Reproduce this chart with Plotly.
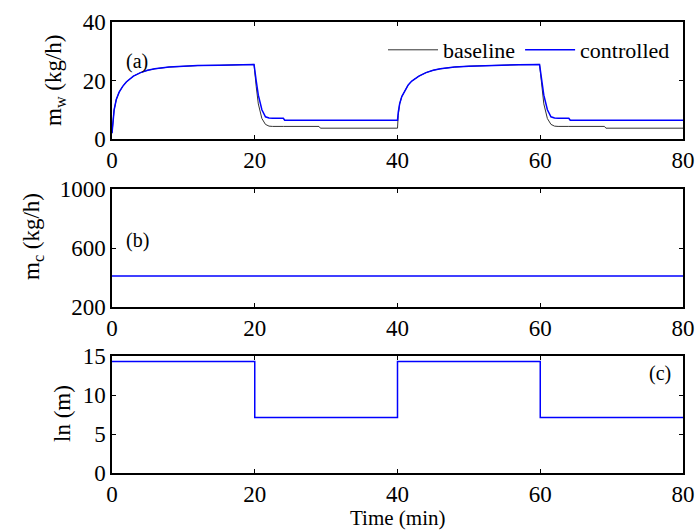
import plotly.graph_objects as go
from plotly.subplots import make_subplots

# ---- data ----
t_a = [0, 0.1, 0.3, 0.6, 1, 1.5, 2, 3, 4, 5, 6, 8, 10, 12, 15, 17, 19.9,
       20.2, 20.5, 21, 21.5, 22, 22.5, 24, 24.2, 29, 29.2, 39.9,
       40.0, 40.1, 40.3, 40.6, 41, 41.5, 42, 43, 44, 45, 46, 48, 50, 52, 55, 57, 59.9,
       60.2, 60.5, 61, 61.5, 62, 62.5, 64, 64.2, 69, 69.2, 80]
controlled = [2, 6, 10, 13.5, 16, 18, 19.5, 21.5, 22.7, 23.5, 24, 24.6, 24.9, 25.1, 25.2, 25.4, 25.5,
              20, 15, 10, 7.6, 7.2, 7.1, 7.1, 6.4, 6.4, 6.4, 6.4,
              6.4, 9, 12, 14.5, 16.5, 18.5, 19.8, 21.5, 22.7, 23.5, 24, 24.6, 24.9, 25.1, 25.2, 25.4, 25.5,
              20, 15, 10, 7.6, 7.2, 7.1, 7.1, 6.4, 6.4, 6.4, 6.4]
baseline = [2, 6, 10, 13.5, 16, 18, 19.5, 21.5, 22.7, 23.5, 24, 24.6, 24.9, 25.1, 25.2, 25.4, 25.5,
            18, 12, 7, 5.0, 4.4, 4.3, 4.3, 4.3, 4.3, 3.7, 3.7,
            3.7, 8, 12, 14.5, 16.5, 18.5, 19.8, 21.5, 22.7, 23.5, 24, 24.6, 24.9, 25.1, 25.2, 25.4, 25.5,
            18, 12, 7, 5.0, 4.4, 4.3, 4.3, 4.3, 4.3, 3.7, 3.7]

t_b = [0, 80]
mc = [410, 410]

t_c = [0, 20, 40, 60, 80]
ln_vals = [14.3, 7.1, 14.3, 7.1, 7.1]

x_ticks = [0, 20, 40, 60, 80]

FONT = "'Times New Roman', 'Liberation Serif', Times, serif"
BLUE = "#0000FF"

fig = make_subplots(rows=3, cols=1, shared_xaxes=False, vertical_spacing=0.1)

fig.add_trace(go.Scatter(x=t_a, y=baseline, mode="lines", name="baseline",
                         line=dict(color="#333333", width=1)), row=1, col=1)
fig.add_trace(go.Scatter(x=t_a, y=controlled, mode="lines", name="controlled",
                         line=dict(color=BLUE, width=1.5)), row=1, col=1)
fig.add_trace(go.Scatter(x=t_b, y=mc, mode="lines", showlegend=False,
                         line=dict(color=BLUE, width=1.5)), row=2, col=1)
fig.add_trace(go.Scatter(x=t_c, y=ln_vals, mode="lines", line_shape="hv", showlegend=False,
                         line=dict(color=BLUE, width=1.5)), row=3, col=1)

L, R, T, B = 112, 14, 22, 59
W, H = 697, 532
ph = H - T - B  # 451

def dom(top_px, bot_px):
    return [(473 - bot_px) / ph, (473 - top_px) / ph]

axis_common = dict(showline=True, linecolor="black", linewidth=1.5, mirror="ticks",
                   ticks="inside", ticklen=4, tickcolor="black", showgrid=False, zeroline=False,
                   automargin=False,
                   tickfont=dict(family=FONT, size=23, color="black"))

fig.update_layout(
    width=W, height=H, margin=dict(l=L, r=R, t=T, b=B, autoexpand=False),
    paper_bgcolor="white", plot_bgcolor="white",
    font=dict(family=FONT, size=22, color="black"),
    xaxis=dict(domain=[0, 1], range=[0, 80], tickvals=x_ticks, anchor="y", **axis_common),
    xaxis2=dict(domain=[0, 1], range=[0, 80], tickvals=x_ticks, anchor="y2", **axis_common),
    xaxis3=dict(domain=[0, 1], range=[0, 80], tickvals=x_ticks, anchor="y3", **axis_common),
    yaxis=dict(domain=dom(22, 139), range=[0, 40], tickvals=[0, 20, 40], anchor="x", **axis_common),
    yaxis2=dict(domain=dom(189, 307), range=[200, 1000], tickvals=[200, 600, 1000], anchor="x2", **axis_common),
    yaxis3=dict(domain=dom(356, 473), range=[0, 15], tickvals=[0, 5, 10, 15], anchor="x3", **axis_common),
    legend=dict(orientation="h", x=(675 - L) / 571, xanchor="right",
                y=(473 - 50) / ph, yanchor="middle", bgcolor="rgba(0,0,0,0)",
                font=dict(family=FONT, size=22, color="black"), itemwidth=50,
                tracegroupgap=0),
    showlegend=True,
)

def px_x(p):
    return (p - L) / 571

def px_y(p):
    return (473 - p) / ph

ann = []
ann.append(dict(text="m<sub>w</sub> (kg/h)", x=px_x(55), y=px_y(81), xref="paper", yref="paper",
                textangle=-90, showarrow=False, xanchor="center", yanchor="middle",
                font=dict(family=FONT, size=23)))
ann.append(dict(text="m<sub>c</sub> (kg/h)", x=px_x(33), y=px_y(237), xref="paper", yref="paper",
                textangle=-90, showarrow=False, xanchor="center", yanchor="middle",
                font=dict(family=FONT, size=23)))
ann.append(dict(text="ln (m)", x=px_x(62), y=px_y(414), xref="paper", yref="paper",
                textangle=-90, showarrow=False, xanchor="center", yanchor="middle",
                font=dict(family=FONT, size=23)))
ann.append(dict(text="Time (min)", x=px_x(397.5), y=px_y(518), xref="paper", yref="paper",
                showarrow=False, xanchor="center", yanchor="middle",
                font=dict(family=FONT, size=21)))
ann.append(dict(text="(a)", x=3.5, y=26.5, xref="x", yref="y", showarrow=False,
                xanchor="center", yanchor="middle", font=dict(family=FONT, size=20)))
ann.append(dict(text="(b)", x=3.6, y=654, xref="x2", yref="y2", showarrow=False,
                xanchor="center", yanchor="middle", font=dict(family=FONT, size=20)))
ann.append(dict(text="(c)", x=76.8, y=12.8, xref="x3", yref="y3", showarrow=False,
                xanchor="center", yanchor="middle", font=dict(family=FONT, size=20)))
fig.update_layout(annotations=ann)

fig.write_html("out.html")
